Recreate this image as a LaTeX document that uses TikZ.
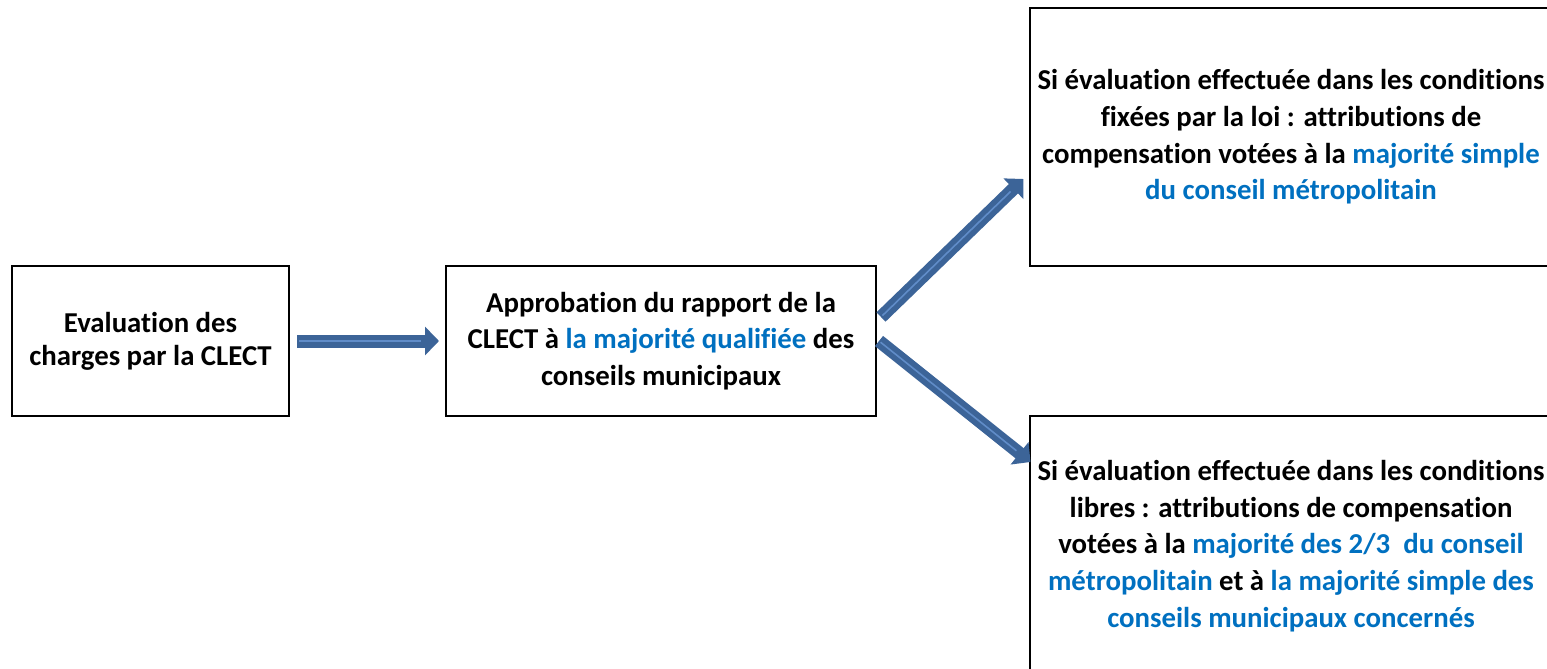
\documentclass[tikz,border=0pt]{standalone}
\usepackage{fontspec}
\setmainfont[Ligatures=NoCommon]{Carlito}
\usetikzlibrary{arrows.meta}

\definecolor{flecheBleu}{RGB}{60,100,152}
\definecolor{flecheClair}{RGB}{96,140,200}
\definecolor{texteBleu}{RGB}{0,112,192}
\newcommand{\bleu}[1]{\textcolor{texteBleu}{#1}}

\begin{document}
\begin{tikzpicture}[x=0.5pt, y=-0.5pt,
		boite/.style={draw, line width=1pt, inner sep=0pt, align=center,
				font=\fontsize{14.4}{18.3}\selectfont\bfseries},
		fleche/.style={line width=6.5pt, draw=flecheBleu,
				-{Triangle[length=7pt, width=14pt]},
				postaction={draw=flecheClair, line width=0.8pt, -, shorten >=9pt, shorten <=1pt}}]

		\useasboundingbox (0,0) rectangle (1547,669);
		\clip (0,0) rectangle (1547,669);

		% les quatre cadres
		\node[boite, minimum width=138.5pt, minimum height=75pt,
			font=\fontsize{14.4}{16.6}\selectfont\bfseries] (evaluation) at (150.5,341)
			{Evaluation des\\charges par la CLECT};

		\node[boite, minimum width=215pt, minimum height=75pt] (approbation) at (661,341)
			{Approbation du rapport de la\\CLECT à \bleu{la majorité qualifiée} des\\conseils municipaux};

		\node[boite, minimum width=261.5pt, minimum height=129pt] (loi) at (1291,137)
			{Si évaluation effectuée dans les conditions\\fixées par la loi : attributions de\\compensation votées à la \bleu{majorité simple}\\\bleu{du conseil métropolitain}};

		\node[boite, minimum width=261.5pt, minimum height=130pt] (libres) at (1291,546)
			{Si évaluation effectuée dans les conditions\\libres : attributions de compensation\\votées à la \bleu{majorité des 2/3\ \ du conseil}\\\bleu{métropolitain} et à \bleu{la majorité simple des}\\\bleu{conseils municipaux concernés}};

		% les flèches
		\draw[fleche] ([xshift=3.5pt]evaluation.east) -- ([xshift=-3pt]approbation.west);
		\draw[fleche] ([shift={(2pt,12pt)}]approbation.east) -- ([shift={(-2.5pt,-21pt)}]loi.west);
		\draw[fleche] ([xshift=1pt]approbation.east) -- ([shift={(1pt,42pt)}]libres.west);
	\end{tikzpicture}
\end{document}
